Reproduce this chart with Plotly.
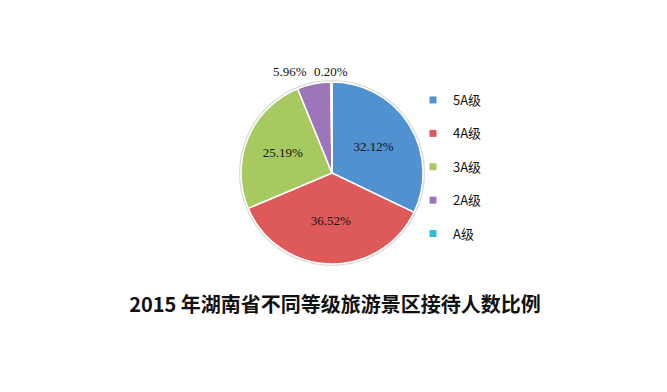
import math
import plotly.graph_objects as go

categories = ["5A级", "4A级", "3A级", "2A级", "A级"]
values = [32.12, 36.52, 25.19, 5.96, 0.20]
text_labels = ["32.12%", "36.52%", "25.19%", "5.96%", "0.20%"]
colors = ["#5092D0", "#DE5A5A", "#A6CA60", "#9C76B8", "#2EBED3"]
label_inside = [True, True, True, False, False]
title_text = "2015 年湖南省不同等级旅游景区接待人数比例"

W, H = 667, 392
cx, cy, r = 332, 173, 91

def dom(rad):
    return dict(x=[(cx - rad) / W, (cx + rad) / W],
                y=[1 - (cy + rad) / H, 1 - (cy - rad) / H])

label_font = dict(family="Liberation Serif, Noto Sans CJK SC", size=13, color="#111111")

fig = go.Figure()

# soft shadow disc behind the pie
fig.add_trace(go.Pie(
    values=[sum(values)], labels=["shadow"], domain=dom(r + 2),
    marker=dict(colors=["rgba(0,0,0,0.14)"], line=dict(width=0)),
    textinfo="none", hoverinfo="skip", showlegend=False, sort=False,
))

fig.add_trace(go.Pie(
    labels=categories, values=values, text=text_labels,
    textinfo="text",
    textposition=["inside" if f else "none" for f in label_inside],
    insidetextorientation="horizontal",
    sort=False, direction="clockwise", rotation=0,
    domain=dom(r),
    marker=dict(colors=colors, line=dict(color="white", width=1.5)),
    textfont=label_font,
    showlegend=False,
))

# outside labels for the two tiny slices, placed above the top of the pie
total = sum(values)
cum = 0
mids = []
for v in values:
    mids.append((cum + v / 2) / total * 2 * math.pi)
    cum += v
top_y = 1 - (cy - r - 11) / H
x_small = cx + r * math.sin(mids[4])
fig.add_annotation(x=x_small / W, y=top_y, xref="paper", yref="paper",
                   text=text_labels[4], showarrow=False, xanchor="center",
                   yanchor="middle", font=label_font)
fig.add_annotation(x=(x_small - 22) / W, y=top_y, xref="paper", yref="paper",
                   text=text_labels[3], showarrow=False, xanchor="right",
                   yanchor="middle", font=label_font)

for i, (cat, col) in enumerate(zip(categories, colors)):
    fig.add_trace(go.Scatter(
        x=[None], y=[None], mode="markers", name=cat,
        legendgroup=f"g{i}",
        marker=dict(symbol="square", size=7, color=col),
    ))

fig.update_layout(
    width=W, height=H,
    margin=dict(l=0, r=0, t=0, b=0),
    paper_bgcolor="white", plot_bgcolor="white",
    xaxis=dict(visible=False), yaxis=dict(visible=False),
    showlegend=True,
    legend=dict(
        x=413 / W, y=1 - 85 / H, xanchor="left", yanchor="top",
        tracegroupgap=13.5, bgcolor="rgba(0,0,0,0)",
        font=dict(family="Noto Sans CJK SC", size=13, color="#111111"),
        itemwidth=30,
    ),
    title=dict(
        text=title_text, x=335 / W, xanchor="center",
        y=1 - 305 / H, yanchor="middle", yref="container",
        font=dict(family="Noto Sans CJK SC", size=20, color="#111111", weight="bold"),
    ),
)

fig.write_html("out.html", config={"displayModeBar": False},
               post_script="document.body.style.margin='0';")
